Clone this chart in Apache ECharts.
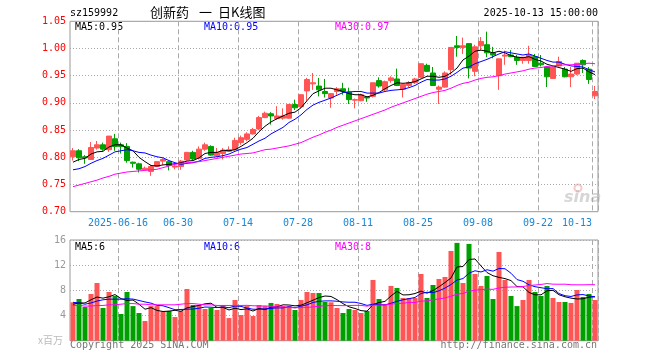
<!DOCTYPE html>
<html><head><meta charset="utf-8">
<script src="https://cdn.jsdelivr.net/npm/echarts/dist/echarts.min.js"></script>
<style>html,body{margin:0;padding:0;background:#fff}#c{width:660px;height:360px}</style>
</head><body><div id="c"></div>
<script>
const dates = ['2025-06-04','2025-06-05','2025-06-06','2025-06-09','2025-06-10','2025-06-11','2025-06-12','2025-06-13',
'2025-06-16','2025-06-17','2025-06-18','2025-06-19','2025-06-20','2025-06-23','2025-06-24','2025-06-25','2025-06-26','2025-06-27','2025-06-30',
'2025-07-01','2025-07-02','2025-07-03','2025-07-04','2025-07-07','2025-07-08','2025-07-09','2025-07-10','2025-07-11',
'2025-07-14','2025-07-15','2025-07-16','2025-07-17','2025-07-18','2025-07-21','2025-07-22','2025-07-23','2025-07-24','2025-07-25',
'2025-07-28','2025-07-29','2025-07-30','2025-07-31','2025-08-01','2025-08-04','2025-08-05','2025-08-06','2025-08-07','2025-08-08',
'2025-08-11','2025-08-12','2025-08-13','2025-08-14','2025-08-15','2025-08-18','2025-08-19','2025-08-20','2025-08-21','2025-08-22',
'2025-08-25','2025-08-26','2025-08-27','2025-08-28','2025-08-29','2025-09-01','2025-09-02','2025-09-03','2025-09-04','2025-09-05',
'2025-09-08','2025-09-09','2025-09-10','2025-09-11','2025-09-12','2025-09-15','2025-09-16','2025-09-17','2025-09-18','2025-09-19',
'2025-09-22','2025-09-23','2025-09-24','2025-09-25','2025-09-26','2025-09-29','2025-09-30','2025-10-09','2025-10-10','2025-10-13'];

const openP = [.801,.812,.801,.796,.817,.823,.814,.834,.823,.820,
.791,.788,.777,.774,.783,.793,.792,.782,.783,.795,
.809,.798,.815,.820,.803,.807,.811,.814,.827,.833,
.843,.852,.873,.880,.871,.872,.872,.897,.893,.922,
.935,.931,.921,.909,.921,.926,.920,.905,.904,.911,
.912,.941,.924,.941,.944,.925,.932,.937,.947,.969,
.955,.925,.929,.961,1.005,1.002,1.009,.958,1.005,1.007,
.992,.950,.986,.988,.984,.978,.978,.985,.973,.966,
.945,.968,.962,.948,.953,.978,.962,.913];
const closeP = [.812,.799,.799,.818,.823,.815,.839,.820,.820,.794,
.789,.778,.780,.783,.792,.796,.785,.784,.793,.809,
.797,.815,.823,.804,.809,.813,.814,.831,.836,.843,
.851,.873,.881,.876,.876,.876,.897,.891,.915,.943,
.937,.924,.917,.917,.926,.921,.906,.906,.915,.909,
.937,.931,.939,.946,.932,.934,.937,.944,.972,.958,
.932,.929,.955,1.002,1.002,1.005,.964,1.003,1.013,.992,
.988,.981,.988,.985,.978,.984,.988,.967,.970,.948,
.966,.976,.948,.953,.973,.970,.943,.921];
const highP = [.817,.815,.804,.828,.830,.827,.839,.843,.827,.826,
.792,.790,.783,.786,.793,.798,.793,.789,.795,.810,
.812,.820,.827,.822,.817,.817,.820,.836,.840,.846,
.854,.876,.884,.883,.894,.890,.898,.906,.916,.946,
.955,.946,.944,.918,.929,.937,.928,.908,.917,.912,
.937,.947,.941,.949,.963,.935,.940,.946,.972,.972,
.966,.932,.958,1.002,1.023,1.020,1.010,1.007,1.021,1.031,
1.003,.981,.996,.997,.988,.984,1.005,.990,.988,.966,
.967,.985,.966,.966,.973,.980,.966,.931];
const lowP = [.794,.793,.788,.795,.814,.812,.810,.812,.807,.790,
.781,.772,.776,.766,.782,.786,.776,.778,.777,.794,
.795,.796,.812,.803,.801,.796,.810,.813,.823,.830,
.842,.850,.872,.860,.869,.869,.871,.887,.891,.904,
.924,.912,.910,.891,.915,.915,.898,.890,.903,.902,
.910,.928,.922,.937,.931,.910,.929,.935,.945,.957,
.931,.898,.928,.952,.985,.990,.945,.949,.997,.984,
.982,.924,.970,.984,.970,.972,.972,.966,.967,.929,
.944,.967,.947,.929,.951,.955,.935,.907];

const ma5 = [.791,.796,.798,.806,.810,.811,.819,.823,.823,.817,
.812,.800,.792,.785,.784,.786,.787,.788,.790,.793,
.794,.799,.807,.809,.809,.813,.812,.814,.820,.827,
.835,.847,.857,.865,.871,.876,.881,.883,.891,.904,
.917,.922,.927,.927,.924,.921,.917,.915,.915,.911,
.914,.919,.926,.932,.937,.936,.937,.939,.944,.949,
.949,.947,.949,.955,.964,.979,.986,.995,.997,.995,
.992,.995,.992,.987,.984,.983,.985,.980,.977,.971,
.968,.965,.962,.958,.963,.964,.957,.952];
const ma10 = [.777,.779,.783,.789,.794,.798,.804,.810,.812,.814,
.812,.809,.808,.804,.801,.799,.794,.790,.787,.789,
.790,.793,.798,.800,.801,.803,.806,.811,.815,.818,
.824,.830,.835,.843,.849,.855,.864,.870,.878,.888,
.896,.901,.905,.909,.914,.919,.920,.921,.921,.918,
.918,.918,.921,.923,.924,.925,.928,.932,.938,.943,
.942,.942,.944,.949,.956,.964,.966,.972,.976,.980,
.985,.990,.994,.992,.990,.988,.990,.986,.982,.978,
.975,.975,.971,.968,.967,.966,.961,.957];
const ma30 = [.746,.749,.752,.755,.758,.762,.765,.769,.771,.773,
.774,.775,.776,.777,.778,.781,.784,.787,.789,.790,
.791,.792,.794,.796,.798,.800,.802,.804,.806,.807,
.808,.811,.814,.815,.817,.819,.821,.824,.827,.832,
.837,.841,.846,.850,.855,.859,.863,.867,.871,.875,
.879,.883,.887,.892,.896,.900,.904,.908,.912,.916,
.919,.921,.923,.927,.932,.936,.938,.942,.945,.947,
.948,.950,.953,.955,.957,.959,.962,.964,.965,.967,
.968,.969,.970,.970,.971,.972,.973,.972];

const volume = [6.1,6.63,5.36,7.42,9.17,5.2,7.74,7.1,4.24,7.74,
5.5,4.4,3.13,5.5,5.5,4.67,4.72,3.76,4.72,8.22,
5.67,5.67,5.04,5.2,4.88,5.67,3.6,6.47,4.08,5.5,
3.92,5.67,5.5,6.0,5.83,5.5,5.5,4.88,6.47,7.74,
7.58,7.58,6.15,6.1,5.2,4.4,5.04,4.88,4.4,4.72,
9.65,6.63,5.83,8.7,8.38,6.79,6.79,6.79,10.6,6.79,
8.85,9.81,10.13,14.26,15.54,9.17,15.38,10.6,8.7,10.29,
6.63,14.1,9.65,7.1,5.5,6.47,9.65,7.74,7.1,8.7,
6.79,6.15,6.15,6.0,8.06,6.95,7.42,6.47];
const volMa5 = [5.8,6.0,6.0,6.5,6.94,6.76,6.98,7.33,6.69,6.40,
6.46,5.80,5.00,5.25,4.81,4.64,4.70,4.83,4.67,5.22,
5.42,5.61,5.86,5.96,5.29,5.29,4.88,5.16,4.94,5.06,
4.71,5.13,4.93,5.32,5.38,5.70,5.67,5.54,5.64,6.02,
6.43,6.85,7.10,7.03,6.52,5.89,5.38,5.12,4.78,4.69,
5.74,6.06,6.25,7.11,7.84,7.27,7.30,7.49,7.87,7.55,
7.96,8.57,9.24,9.97,11.72,11.78,12.90,12.99,11.88,10.83,
10.32,10.06,9.87,9.55,8.60,8.56,7.67,7.29,7.29,7.93,
8.00,7.30,6.98,6.76,6.63,6.66,6.92,6.98];
const volMa10 = [6.1,6.0,5.8,6.0,6.3,6.5,6.6,6.6,6.6,6.67,
6.61,6.39,6.16,5.97,5.61,5.55,5.25,4.92,4.96,5.01,
5.03,5.16,5.35,5.32,5.26,5.36,5.24,5.51,5.45,5.18,
5.00,5.00,5.05,5.13,5.22,5.21,5.40,5.24,5.48,5.70,
6.07,6.26,6.32,6.33,6.27,6.16,6.11,6.11,5.91,5.61,
5.81,5.72,5.69,5.95,6.26,6.50,6.68,6.87,7.49,7.70,
7.62,7.93,8.36,8.92,9.64,9.87,10.73,11.11,10.92,11.27,
11.05,11.48,11.43,10.72,9.71,9.44,8.87,8.58,8.42,8.26,
8.28,7.49,7.14,7.03,7.28,7.33,7.11,6.98];
const volMa30 = [5.6,5.6,5.5,5.5,5.6,5.6,5.7,5.7,5.8,5.9,
5.9,5.8,5.8,5.7,5.7,5.7,5.7,5.7,5.8,5.9,
5.9,5.8,5.7,5.7,5.6,5.6,5.6,5.6,5.6,5.62,
5.55,5.52,5.52,5.47,5.36,5.37,5.30,5.22,5.30,5.30,
5.37,5.47,5.57,5.59,5.58,5.57,5.58,5.62,5.61,5.49,
5.63,5.66,5.69,5.80,5.92,5.96,6.06,6.07,6.29,6.33,
6.50,6.64,6.79,7.07,7.39,7.51,7.84,8.03,8.11,8.19,
8.16,8.38,8.49,8.53,8.54,8.61,8.76,8.85,8.94,9.08,
8.98,8.97,8.98,8.89,8.88,8.88,8.90,8.89];

const tickDates = ['2025-06-16','2025-06-30','2025-07-14','2025-07-28','2025-08-11','2025-08-25','2025-09-08','2025-09-22','2025-10-13'];
const tickLabels = ['2025-06-16','06-30','07-14','07-28','08-11','08-25','09-08','09-22','10-13'];
const legendPrice = ['MA5:0.95','MA10:0.95','MA30:0.97'];
const legendVol = ['MA5:6','MA10:6','MA30:8'];

const UP = '#ff5555', DOWN = '#00a000';
const MONO = '"DejaVu Sans Mono", monospace';
const tickIdx = tickDates.map(d => dates.indexOf(d));
const isTick = (i) => tickIdx.indexOf(i) >= 0;

const kData = dates.map((d, i) => [openP[i], closeP[i], lowP[i], highP[i]]);
const volData = volume.map((v, i) => ({ value: v, itemStyle: { color: closeP[i] >= openP[i] ? UP : DOWN } }));

const chart = echarts.init(document.getElementById('c'), null, { renderer: 'canvas' });
const grids = [
  { left: 70, top: 21.3, width: 528, height: 190.4, show: true, borderColor: '#999', borderWidth: 1 },
  { left: 70, top: 240, width: 528, height: 100.7, show: true, borderColor: '#999', borderWidth: 1 }
];
function xAx(gi, showLabel) {
  return {
    type: 'category', gridIndex: gi, data: dates, boundaryGap: true,
    axisLine: { show: false }, axisTick: { show: false },
    splitLine: { show: true, interval: (i) => isTick(i), lineStyle: { color: '#aaa', type: [5, 3], width: 1 } },
    axisLabel: {
      show: showLabel, interval: (i) => isTick(i), color: '#1a86d8', fontFamily: MONO, fontSize: 10, margin: 7,
      formatter: (v, i) => {
        const k = tickDates.indexOf(v);
        if (k < 0) return '';
        return (k === tickDates.length - 1 ? '{e|' : '{n|') + tickLabels[k] + '}';
      },
      rich: {
        n: { color: '#1a86d8', fontFamily: MONO, fontSize: 10, padding: [0, 6, 0, 0] },
        e: { color: '#1a86d8', fontFamily: MONO, fontSize: 10, padding: [0, 36, 0, 0] }
      }
    }
  };
}
const option = {
  animation: false,
  backgroundColor: '#fff',
  grid: grids,
  xAxis: [xAx(0, true), xAx(1, false)],
  yAxis: [
    { type: 'value', gridIndex: 0, min: 0.70, max: 1.05, interval: 0.05, scale: true,
      axisLine: { show: false }, axisTick: { show: false },
      axisLabel: { color: '#ff0000', fontFamily: MONO, fontSize: 10, margin: 4, formatter: v => v.toFixed(2), showMinLabel: true, showMaxLabel: true },
      splitLine: { show: true, lineStyle: { color: '#aaa', type: [1, 2], width: 1 } } },
    { type: 'value', gridIndex: 1, min: 0, max: 16, interval: 4,
      axisLine: { show: false }, axisTick: { show: false },
      axisLabel: { color: '#999', fontFamily: MONO, fontSize: 10, margin: 4, formatter: v => v === 0 ? '' : String(v) },
      splitLine: { show: true, lineStyle: { color: '#aaa', type: [1, 2], width: 1 } } }
  ],
  series: [
    { type: 'candlestick', xAxisIndex: 0, yAxisIndex: 0, data: kData, barWidth: 5,
      itemStyle: { color: UP, color0: DOWN, borderColor: UP, borderColor0: DOWN, borderWidth: 1 } },
    { type: 'line', xAxisIndex: 0, yAxisIndex: 0, data: ma5, symbol: 'none', lineStyle: { color: '#000', width: 1 } },
    { type: 'line', xAxisIndex: 0, yAxisIndex: 0, data: ma10, symbol: 'none', lineStyle: { color: '#0000ff', width: 1 } },
    { type: 'line', xAxisIndex: 0, yAxisIndex: 0, data: ma30, symbol: 'none', lineStyle: { color: '#ff00ff', width: 1 } },
    { type: 'bar', xAxisIndex: 1, yAxisIndex: 1, data: volData, barWidth: 5 },
    { type: 'line', xAxisIndex: 1, yAxisIndex: 1, data: volMa5, symbol: 'none', lineStyle: { color: '#000', width: 1 } },
    { type: 'line', xAxisIndex: 1, yAxisIndex: 1, data: volMa10, symbol: 'none', lineStyle: { color: '#0000ff', width: 1 } },
    { type: 'line', xAxisIndex: 1, yAxisIndex: 1, data: volMa30, symbol: 'none', lineStyle: { color: '#ff00ff', width: 1 } }
  ],
  graphic: [
    { type: 'text', left: 70, top: 8, style: { text: 'sz159992', fill: '#000', font: '10px ' + MONO } },
    { type: 'text', left: 150, top: 6, style: { text: '创新药', fill: '#000', font: '13px "Noto Sans CJK SC"' } },
    { type: 'text', left: 199, top: 6, style: { text: '一', fill: '#000', font: '13px "Noto Sans CJK SC"' } },
    { type: 'text', left: 218, top: 6, style: { text: '日K线图', fill: '#000', font: '13px "Noto Sans CJK SC"' } },
    { type: 'text', right: 62, top: 8, style: { text: '2025-10-13 15:00:00', fill: '#000', font: '10px ' + MONO } },
    { type: 'text', left: 75, top: 22, style: { text: legendPrice[0], fill: '#000', font: '10px ' + MONO } },
    { type: 'text', left: 204, top: 22, style: { text: legendPrice[1], fill: '#0000ff', font: '10px ' + MONO } },
    { type: 'text', left: 335, top: 22, style: { text: legendPrice[2], fill: '#ff00ff', font: '10px ' + MONO } },
    { type: 'text', left: 75, top: 242, style: { text: legendVol[0], fill: '#000', font: '10px ' + MONO } },
    { type: 'text', left: 204, top: 242, style: { text: legendVol[1], fill: '#0000ff', font: '10px ' + MONO } },
    { type: 'text', left: 335, top: 242, style: { text: legendVol[2], fill: '#ff00ff', font: '10px ' + MONO } },
    { type: 'text', left: 38, top: 335, style: { text: 'x百万', fill: '#bbb', font: '10px "Noto Sans CJK SC"' } },
    { type: 'text', left: 70, top: 340, style: { text: 'Copyright 2025 SINA.COM', fill: '#777', font: '10px ' + MONO } },
    { type: 'text', right: 63, top: 340, style: { text: 'http://finance.sina.com.cn', fill: '#777', font: '10px ' + MONO } },
    { type: 'circle', shape: { cx: 578, cy: 188, r: 3.5 }, style: { fill: 'none', stroke: 'rgba(240,130,130,0.45)', lineWidth: 2 } },
    { type: 'text', left: 564, top: 190, style: { text: 'sina', fill: 'rgba(180,180,180,0.55)', font: 'italic bold 16px "DejaVu Sans"' } }
  ]
};
chart.setOption(option);
</script>
</body></html>
